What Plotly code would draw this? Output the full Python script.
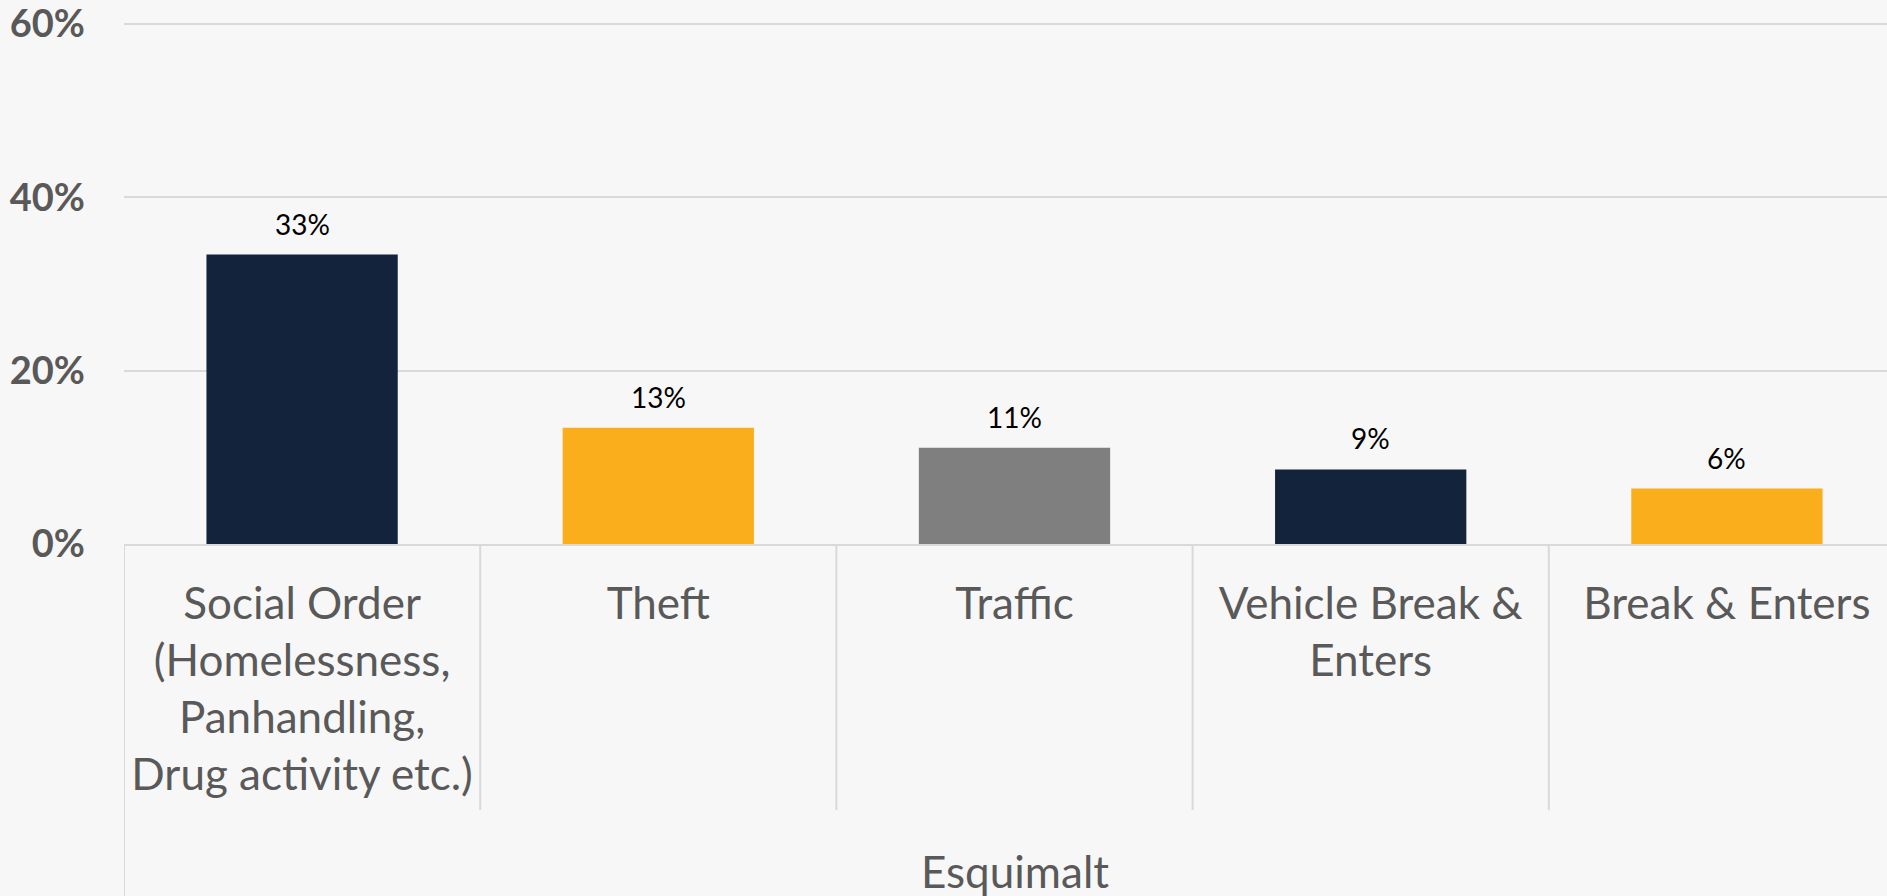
import plotly.graph_objects as go

categories = ["Social Order", "Theft", "Traffic", "Vehicle Break & Enters", "Break & Enters"]
tick_labels = [
    "Social Order<br>(Homelessness,<br>Panhandling,<br>Drug activity etc.)",
    "Theft",
    "Traffic",
    "Vehicle Break &<br>Enters",
    "Break & Enters",
]
values = [33.4, 13.4, 11.1, 8.6, 6.4]
bar_colors = ["#14233C", "#FBAE1B", "#7F7F7F", "#14233C", "#FBAE1B"]
group_label = "Esquimalt"
y_ticks = [0, 20, 40, 60]

W, H = 1887, 896
M_L, M_R, M_T, M_B = 124, 0, 4, 352
plot_h = H - M_T - M_B
axis_y = M_T + plot_h            # pixel row of 0%
px_per_unit = (axis_y - 24) / 60  # 60% gridline sits at row 24
y_max = 60 + (24 - M_T) / px_per_unit
cat_px = 356.2                    # width of one category slot in pixels
x_max = -0.5 + (W - M_L - M_R) / cat_px

fig = go.Figure()
fig.add_trace(go.Bar(
    x=categories, y=values, marker=dict(color=bar_colors, line=dict(width=0)),
    hoverinfo="skip",
))

for c, v in zip(categories, values):
    fig.add_annotation(x=c, y=v, xref="x", yref="y", text=f"{round(v)}%",
                       showarrow=False, yanchor="bottom", yshift=12,
                       font=dict(family="Lato", size=28, color="#000000"))

# group label centred under the whole group of categories
n = len(categories)
fig.add_annotation(x=(n - 1) / 2, y=-(871 - axis_y) / plot_h, xref="x", yref="paper",
                   text=group_label, showarrow=False, yanchor="middle",
                   font=dict(family="Lato", size=44, color="#595959"))

grid_c = "#D9D9D9"
shapes = []
for i in range(n):
    b = i - 0.5
    bottom_px = H if i == 0 else 810
    bottom = -(bottom_px - axis_y) / plot_h
    shapes.append(dict(type="line", xref="x", yref="paper", x0=b, x1=b, y0=0, y1=bottom,
                       line=dict(color=grid_c, width=2), layer="below"))

fig.update_layout(
    width=W, height=H,
    margin=dict(l=M_L, r=M_R, t=M_T, b=M_B, pad=0),
    paper_bgcolor="#F7F7F7", plot_bgcolor="#F7F7F7",
    bargap=0.463, showlegend=False,
    shapes=shapes,
    xaxis=dict(
        type="category", range=[-0.5, x_max], automargin=False,
        tickvals=categories, ticktext=tick_labels,
        tickfont=dict(family="Lato", size=44, color="#595959"),
        showline=True, linecolor=grid_c, linewidth=2,
        showgrid=False, ticks="", ticklabelstandoff=20,
    ),
    yaxis=dict(
        range=[0, y_max], tickvals=y_ticks, ticktext=[f"{t}%" for t in y_ticks],
        tickfont=dict(family="Lato", size=38, color="#595959", weight="bold"),
        showgrid=True, gridcolor=grid_c, gridwidth=2, zeroline=False, automargin=False,
        showline=False, ticks="", ticklabelstandoff=38, ticklabeloverflow="allow",
    ),
)

fig.write_html("out.html", config={"displayModeBar": False},
               post_script="document.body.style.margin='0';document.body.style.background='#F7F7F7';")
